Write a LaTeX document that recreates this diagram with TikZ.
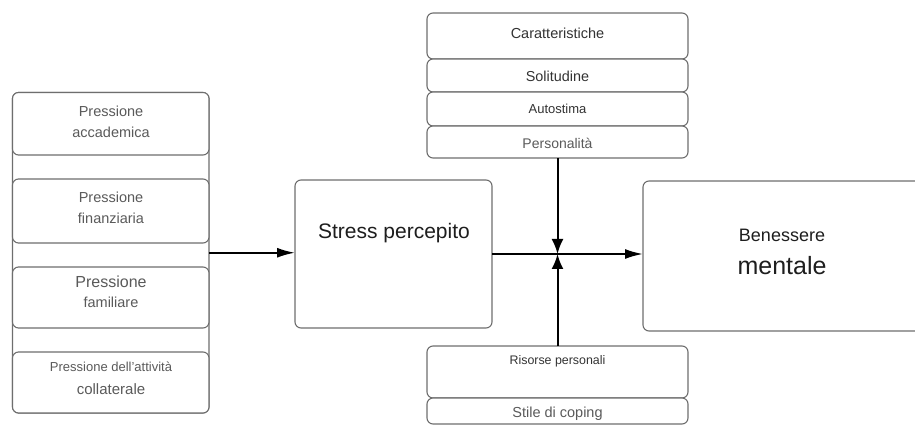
\documentclass[tikz,border=0pt]{standalone}
\usepackage{fontspec}
\setmainfont{Liberation Sans}
\usetikzlibrary{arrows.meta}
\definecolor{boxline}{HTML}{6E6E6E}
\definecolor{lbl}{HTML}{5A5A5A}
\definecolor{mid}{HTML}{333333}
\definecolor{dark}{HTML}{1E1E1E}
\tikzset{
  box/.style={draw=boxline, line width=1.1pt, rounded corners=6pt, fill=white,
    inner sep=0pt, outer sep=0pt, anchor=north west},
  lab/.style={text=lbl, align=center, inner sep=0pt},
  arr/.style={line width=2pt, -{Latex[length=18pt,width=10pt]}},
  varr/.style={line width=2pt, -{Latex[length=15pt,width=12pt]}},
}
\newcommand\bx[5]{\node[box, minimum width={(#4-#2)*1pt}, minimum height={(#5-#3)*1pt}] (#1) at (#2,#3) {};}
\newcommand\fsz[2]{\fontsize{#1}{#2}\selectfont}
\begin{document}
\begin{tikzpicture}[x=1pt,y=-1pt]
\useasboundingbox (0,0) rectangle (915,427);
% left stack
\bx{leftframe}{12.5}{92.5}{209}{413}
\bx{acc}{12.5}{92.5}{209}{155}
\bx{fin}{12.5}{179}{209}{243}
\bx{fam}{12.5}{267}{209}{328}
\bx{coll}{12.5}{352}{209}{413}
% middle and right
\bx{stress}{295}{180}{492}{328}
\bx{bene}{643}{181}{935}{331}
% top stack
\bx{car}{427}{13}{688}{59}
\bx{sol}{427}{59}{688}{92}
\bx{aut}{427}{92}{688}{126}
\bx{pers}{427}{126}{688}{158}
% bottom stack
\bx{ris}{427}{346}{688}{398}
\bx{stile}{427}{398}{688}{424}
% texts
\node[lab, font=\fsz{14.5}{21}] (tacc) at (111,122) {Pressione\\accademica};
\node[lab, font=\fsz{14.5}{21}] (tfin) at (111,208) {Pressione\\finanziaria};
\node[lab, font=\fsz{16}{19}] (tfam1) at (111,282) {Pressione};
\node[lab, font=\fsz{14.5}{17}] (tfam2) at (111,302) {familiare};
\node[lab, font=\fsz{13}{16}] (tcoll1) at (111,367) {Pressione dell'attività};
\node[lab, font=\fsz{15}{18}] (tcoll2) at (111,389) {collaterale};
\node[lab, text=mid, font=\fsz{14.5}{17}] (tcar) at (557.5,33) {Caratteristiche};
\node[lab, text=mid, font=\fsz{14.4}{17}] (tsol) at (557.5,76) {Solitudine};
\node[lab, text=mid, font=\fsz{13}{16}] (taut) at (557.5,109) {Autostima};
\node[lab, font=\fsz{14}{17}] (tpers) at (557.5,143) {Personalità};
\node[lab, text=mid, font=\fsz{12.4}{15}] (tris) at (557.5,361) {Risorse personali};
\node[lab, font=\fsz{14.5}{17}] (tstile) at (557.5,414) {Stile di coping};
\node[lab, text=dark, font=\fsz{21}{25}] (tstress) at (394,233) {Stress percepito};
\node[lab, text=dark, font=\fsz{18}{21}] (tbene1) at (782,235) {Benessere};
\node[lab, text=dark, font=\fsz{25}{30}] (tbene2) at (782,266) {mentale};
% connectors
\coordinate (j) at (557.5,254);
\draw[arr] (leftframe.east) -- (stress.west |- leftframe.east);
\draw[arr] (stress.east |- j) -- (bene.west |- j);
\draw[varr] (pers.south) -- (j);
\draw[varr] (ris.north) -- (j);
\end{tikzpicture}
\end{document}
